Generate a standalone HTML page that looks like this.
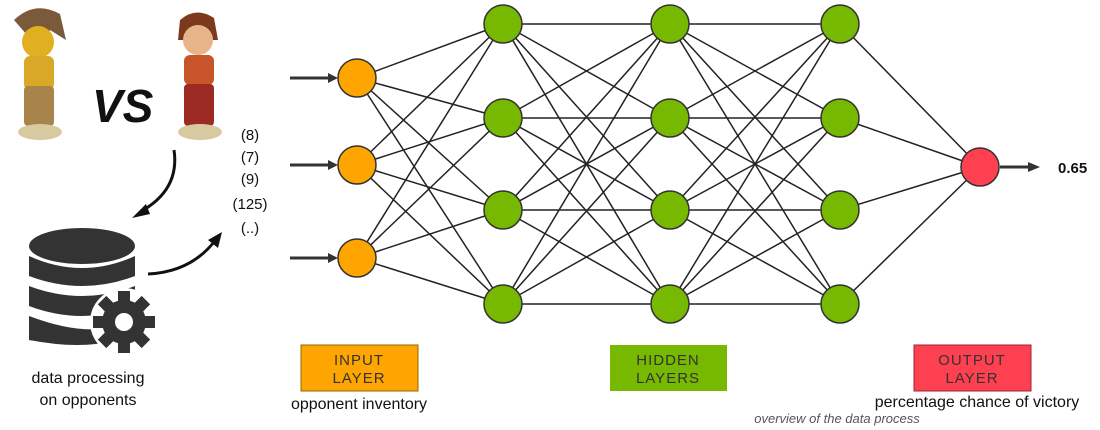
<!DOCTYPE html>
<html><head><style>
body{margin:0;background:#fff;}
svg{display:block;}
text{font-family:"Liberation Sans",sans-serif;}
</style></head><body>
<svg width="1100" height="430" viewBox="0 0 1100 430" xmlns="http://www.w3.org/2000/svg">
<g>
 <path d="M14 20 Q35 0 60 14 L66 40 L50 30 L40 50 Z" fill="#7a5a3a"/>
 <ellipse cx="38" cy="42" rx="16" ry="16" fill="#e0b020"/>
 <rect x="24" y="56" width="30" height="34" rx="6" fill="#d9a828"/>
 <rect x="24" y="86" width="30" height="40" rx="4" fill="#a8844a"/>
 <ellipse cx="40" cy="132" rx="22" ry="8" fill="#d8c9a0"/>
 <path d="M180 20 Q196 6 214 18 L218 40 L178 40 Z" fill="#7b3a1e"/>
 <ellipse cx="198" cy="40" rx="15" ry="15" fill="#e8b58a"/>
 <rect x="184" y="55" width="30" height="30" rx="6" fill="#c8542a"/>
 <rect x="184" y="84" width="30" height="42" rx="4" fill="#9a2a22"/>
 <ellipse cx="200" cy="132" rx="22" ry="8" fill="#d8c9a0"/>
 <text x="92" y="122" font-size="46" font-weight="bold" font-style="italic" fill="#111">VS</text>
</g>
<path d="M174 150 Q180 190 140 212" stroke="#111" stroke-width="3" fill="none"/>
<polygon points="132,218 146,204 150,214" fill="#111"/>
<path d="M148 274 Q190 272 214 242" stroke="#111" stroke-width="3" fill="none"/>
<polygon points="222,232 208,240 218,248" fill="#111"/>
<g fill="#333">
 <ellipse cx="82" cy="246" rx="53" ry="18"/>
 <path d="M29 256 Q82 280 135 256 L135 276 Q82 296 29 276 Z"/>
 <path d="M29 286 Q82 306 135 286 L135 306 Q82 326 29 306 Z"/>
 <path d="M29 316 Q82 336 115 326 L115 340 Q82 350 29 340 Z"/>
 <circle cx="124" cy="322" r="34" fill="#fff"/>
 <g transform="translate(124,322)">
  <circle r="22"/>
  <g><rect x="-6" y="-31" width="12" height="62"/><rect x="-31" y="-6" width="62" height="12"/>
  <rect x="-6" y="-31" width="12" height="62" transform="rotate(45)"/><rect x="-6" y="-31" width="12" height="62" transform="rotate(-45)"/></g>
  <circle r="9" fill="#fff"/>
 </g>
</g>
<text x="88" y="383" font-size="16" text-anchor="middle" fill="#111" font-weight="500">data processing</text>
<text x="88" y="405" font-size="16" text-anchor="middle" fill="#111">on opponents</text>
<g font-size="15" fill="#111" text-anchor="middle">
 <text x="250" y="140">(8)</text><text x="250" y="162">(7)</text><text x="250" y="184">(9)</text><text x="250" y="209">(125)</text><text x="250" y="233">(..)</text>
</g>
<g stroke="#222" stroke-width="1.5">
 <line x1="357" y1="78" x2="503" y2="24"/><line x1="357" y1="78" x2="503" y2="118"/><line x1="357" y1="78" x2="503" y2="210"/><line x1="357" y1="78" x2="503" y2="304"/>
 <line x1="357" y1="165" x2="503" y2="24"/><line x1="357" y1="165" x2="503" y2="118"/><line x1="357" y1="165" x2="503" y2="210"/><line x1="357" y1="165" x2="503" y2="304"/>
 <line x1="357" y1="258" x2="503" y2="24"/><line x1="357" y1="258" x2="503" y2="118"/><line x1="357" y1="258" x2="503" y2="210"/><line x1="357" y1="258" x2="503" y2="304"/>
 <line x1="503" y1="24" x2="670" y2="24"/><line x1="503" y1="24" x2="670" y2="118"/><line x1="503" y1="24" x2="670" y2="210"/><line x1="503" y1="24" x2="670" y2="304"/>
 <line x1="503" y1="118" x2="670" y2="24"/><line x1="503" y1="118" x2="670" y2="118"/><line x1="503" y1="118" x2="670" y2="210"/><line x1="503" y1="118" x2="670" y2="304"/>
 <line x1="503" y1="210" x2="670" y2="24"/><line x1="503" y1="210" x2="670" y2="118"/><line x1="503" y1="210" x2="670" y2="210"/><line x1="503" y1="210" x2="670" y2="304"/>
 <line x1="503" y1="304" x2="670" y2="24"/><line x1="503" y1="304" x2="670" y2="118"/><line x1="503" y1="304" x2="670" y2="210"/><line x1="503" y1="304" x2="670" y2="304"/>
 <line x1="670" y1="24" x2="840" y2="24"/><line x1="670" y1="24" x2="840" y2="118"/><line x1="670" y1="24" x2="840" y2="210"/><line x1="670" y1="24" x2="840" y2="304"/>
 <line x1="670" y1="118" x2="840" y2="24"/><line x1="670" y1="118" x2="840" y2="118"/><line x1="670" y1="118" x2="840" y2="210"/><line x1="670" y1="118" x2="840" y2="304"/>
 <line x1="670" y1="210" x2="840" y2="24"/><line x1="670" y1="210" x2="840" y2="118"/><line x1="670" y1="210" x2="840" y2="210"/><line x1="670" y1="210" x2="840" y2="304"/>
 <line x1="670" y1="304" x2="840" y2="24"/><line x1="670" y1="304" x2="840" y2="118"/><line x1="670" y1="304" x2="840" y2="210"/><line x1="670" y1="304" x2="840" y2="304"/>
 <line x1="840" y1="24" x2="980" y2="167"/><line x1="840" y1="118" x2="980" y2="167"/><line x1="840" y1="210" x2="980" y2="167"/><line x1="840" y1="304" x2="980" y2="167"/>
</g>
<g stroke="#333" stroke-width="3">
 <line x1="290" y1="78" x2="330" y2="78"/><line x1="290" y1="165" x2="330" y2="165"/><line x1="290" y1="258" x2="330" y2="258"/>
 <line x1="1000" y1="167" x2="1030" y2="167"/>
</g>
<g fill="#333">
 <polygon points="328,73 338,78 328,83"/><polygon points="328,160 338,165 328,170"/><polygon points="328,253 338,258 328,263"/>
 <polygon points="1028,162 1040,167 1028,172"/>
</g>
<text x="1058" y="173" font-size="15" font-weight="bold" fill="#111">0.65</text>
<g stroke="#333" stroke-width="1.5">
 <g fill="#ffa500"><circle cx="357" cy="78" r="19"/><circle cx="357" cy="165" r="19"/><circle cx="357" cy="258" r="19"/></g>
 <g fill="#77b800">
  <circle cx="503" cy="24" r="19"/><circle cx="503" cy="118" r="19"/><circle cx="503" cy="210" r="19"/><circle cx="503" cy="304" r="19"/>
  <circle cx="670" cy="24" r="19"/><circle cx="670" cy="118" r="19"/><circle cx="670" cy="210" r="19"/><circle cx="670" cy="304" r="19"/>
  <circle cx="840" cy="24" r="19"/><circle cx="840" cy="118" r="19"/><circle cx="840" cy="210" r="19"/><circle cx="840" cy="304" r="19"/>
 </g>
 <circle cx="980" cy="167" r="19" fill="#ff4050"/>
</g>
<rect x="301" y="345" width="117" height="46" fill="#ffa500" stroke="#8a6a00"/>
<rect x="610" y="345" width="117" height="46" fill="#77b800"/>
<rect x="914" y="345" width="117" height="46" fill="#ff4050" stroke="#a02030"/>
<g font-size="15" fill="#333" text-anchor="middle" letter-spacing="1">
 <text x="359" y="365">INPUT</text><text x="359" y="383">LAYER</text>
 <text x="668" y="365">HIDDEN</text><text x="668" y="383">LAYERS</text>
 <text x="972" y="365">OUTPUT</text><text x="972" y="383">LAYER</text>
</g>
<text x="359" y="409" font-size="16" text-anchor="middle" fill="#111" font-weight="500">opponent inventory</text>
<text x="977" y="407" font-size="16" text-anchor="middle" fill="#111" font-weight="500">percentage chance of victory</text>
<text x="837" y="423" font-size="13" font-style="italic" text-anchor="middle" fill="#555">overview of the data process</text>
</svg>
</body></html>
